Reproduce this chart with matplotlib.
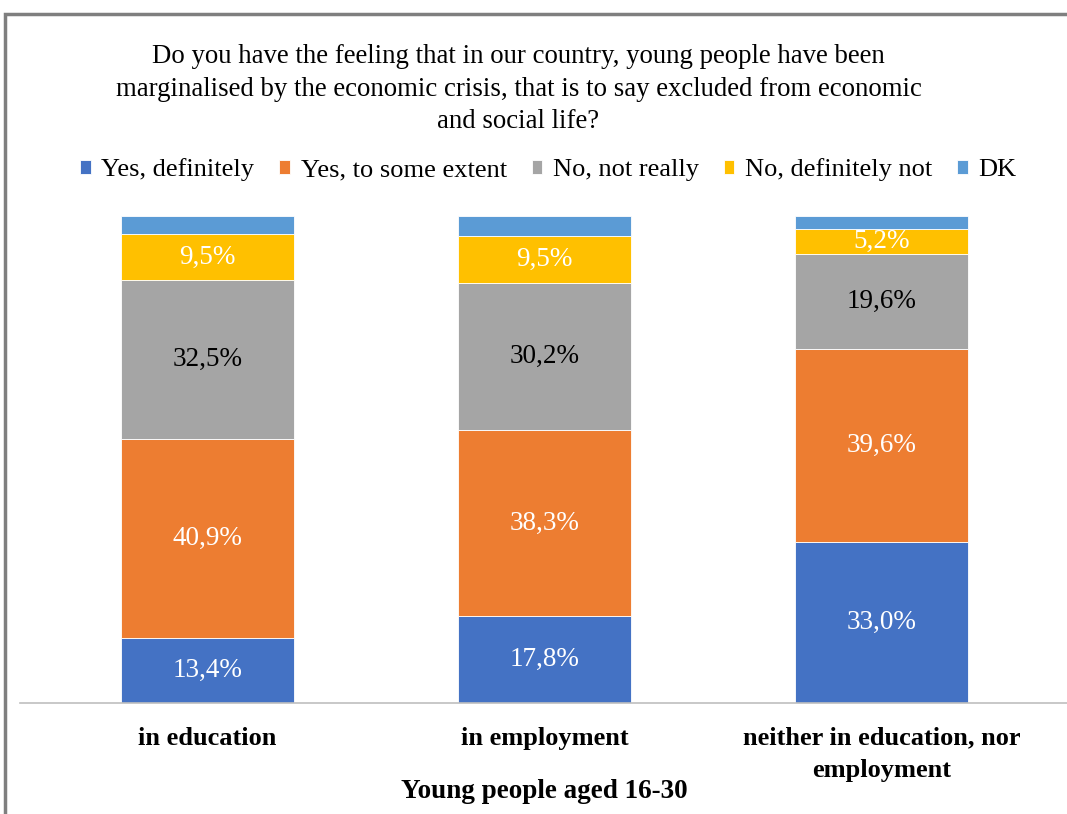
import matplotlib
matplotlib.use('Agg')
import matplotlib.pyplot as plt
from matplotlib.patches import Rectangle

# Survey answers by status of young people aged 16-30 (percent)
grupos = ['in education', 'in employment', 'neither in education, nor\nemployment']
respuestas = ['Yes, definitely', 'Yes, to some extent', 'No, not really',
              'No, definitely not', 'DK']
si_totalmente = [13.4, 17.8, 33.0]
si_en_parte = [40.9, 38.3, 39.6]
no_realmente = [32.5, 30.2, 19.6]
no_en_absoluto = [9.5, 9.5, 5.2]
no_sabe = [3.7, 4.2, 2.6]

series = [si_totalmente, si_en_parte, no_realmente, no_en_absoluto, no_sabe]
colores = ['#4472C4', '#ED7D31', '#A5A5A5', '#FFC000', '#5B9BD5']
color_texto = ['white', 'white', 'black', 'white', None]

plt.rcParams['font.family'] = ['Liberation Serif', 'DejaVu Serif']

fig = plt.figure(figsize=(10.67, 8.14), dpi=100)
ax = fig.add_axes([20 / 1067, 111 / 814, 1049 / 1067, 487 / 814])

x = list(range(len(grupos)))
base = [0.0] * len(grupos)
for valores, color, nombre, ctexto in zip(series, colores, respuestas, color_texto):
    ax.bar(x, valores, width=0.513, bottom=base, color=color,
           edgecolor='white', linewidth=0.6, label=nombre)
    if ctexto is not None:
        for i, v in enumerate(valores):
            ax.text(x[i], base[i] + v / 2, f'{v:.1f}%'.replace('.', ','),
                    ha='center', va='center', fontsize=19.5, color=ctexto)
    base = [b + v for b, v in zip(base, valores)]

ax.set_xlim(-0.5566, 2.5566)
ax.set_ylim(0, 100)
ax.set_yticks([])
ax.set_xticks(x)
ax.set_xticklabels(grupos, fontsize=19, fontweight='bold', linespacing=1.5)
ax.tick_params(axis='x', length=0, pad=17)
ax.set_xlabel('Young people aged 16-30', fontsize=19.5, fontweight='bold', labelpad=-2)
for lado in ['top', 'left', 'right']:
    ax.spines[lado].set_visible(False)
ax.spines['bottom'].set_color('#BFBFBF')
ax.spines['bottom'].set_linewidth(1.2)

fig.text(0.486, 1 - 89 / 814,
         'Do you have the feeling that in our country, young people have been\n'
         'marginalised by the economic crisis, that is to say excluded from economic\n'
         'and social life?',
         ha='center', va='center', fontsize=19.3, linespacing=1.39)

fig.legend(loc='center', bbox_to_anchor=(0.514, 1 - 170 / 814), ncol=5,
           frameon=False, fontsize=19, handlelength=0.4, handleheight=0.45,
           handletextpad=0.4, columnspacing=0.95)

# marco gris alrededor del gráfico
fig.patches.append(Rectangle((5 / 1067, -0.1), 1.2, 1.1 - 14 / 814,
                             transform=fig.transFigure, fill=False,
                             edgecolor='#7F7F7F', linewidth=2.5))

plt.savefig('out.png', dpi=100)
